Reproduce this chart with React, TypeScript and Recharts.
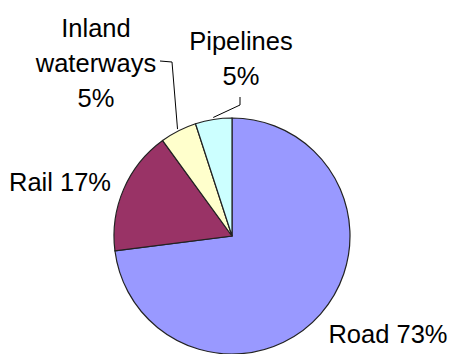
import React from 'react';
import { PieChart, Pie, Cell } from 'recharts';

const categories = ['Road', 'Rail', 'Inland waterways', 'Pipelines'];
const shares = [73, 17, 5, 5];
const colors = ['#9999ff', '#993366', '#ffffcc', '#ccffff'];

// how each label is broken into lines
const labelRows = [
  ['Road 73%'],
  ['Rail 17%'],
  ['Inland', 'waterways', '5%'],
  ['Pipelines', '5%'],
];

const data = categories.map((name, i) => ({ name, value: shares[i] }));

// label placement relative to pie centre (first baseline), plus leader line bends
const labelPos = [
  { dx: 156, dy: 107 },
  { dx: -172, dy: -45 },
  { dx: -136, dy: -199, line: [[-60, -174], [-72, -175]] },
  { dx: 9, dy: -186, line: [[8, -131], [8, -139]] },
];

const RAD = Math.PI / 180;
const LINE_H = 35;

const renderLabel = (props: any) => {
  const { cx, cy, midAngle, outerRadius, index } = props;
  const pos = labelPos[index];
  const rows = labelRows[index];
  let leader = null;
  if (pos.line) {
    const sx = cx + (outerRadius + 2) * Math.cos(-midAngle * RAD);
    const sy = cy + (outerRadius + 2) * Math.sin(-midAngle * RAD);
    const pts = [[sx, sy], ...pos.line.map(([x, y]) => [cx + x, cy + y])];
    leader = (
      <polyline
        points={pts.map((p) => p.join(',')).join(' ')}
        fill="none"
        stroke="#000"
        strokeWidth={1}
      />
    );
  }
  return (
    <g key={`lbl-${index}`}>
      {leader}
      <text
        x={cx + pos.dx}
        y={cy + pos.dy}
        textAnchor="middle"
        fill="#000"
        fontSize={25.5}
        fontFamily="'Liberation Sans', Arial, sans-serif"
      >
        {rows.map((r, j) => (
          <tspan key={j} x={cx + pos.dx} dy={j === 0 ? 0 : LINE_H}>
            {r}
          </tspan>
        ))}
      </text>
    </g>
  );
};

export default function App() {
  return (
    <div style={{ position: 'absolute', left: 0, top: 0, background: '#fff' }}>
      <PieChart width={451} height={354} margin={{ top: 0, right: 0, bottom: 0, left: 0 }}>
        <Pie
          data={data}
          dataKey="value"
          nameKey="name"
          cx={232}
          cy={236}
          outerRadius={118}
          startAngle={90}
          endAngle={-270}
          stroke="#222"
          strokeWidth={1.2}
          label={renderLabel}
          labelLine={false}
          isAnimationActive={false}
        >
          {data.map((d, i) => (
            <Cell key={d.name} fill={colors[i]} />
          ))}
        </Pie>
      </PieChart>
    </div>
  );
}
